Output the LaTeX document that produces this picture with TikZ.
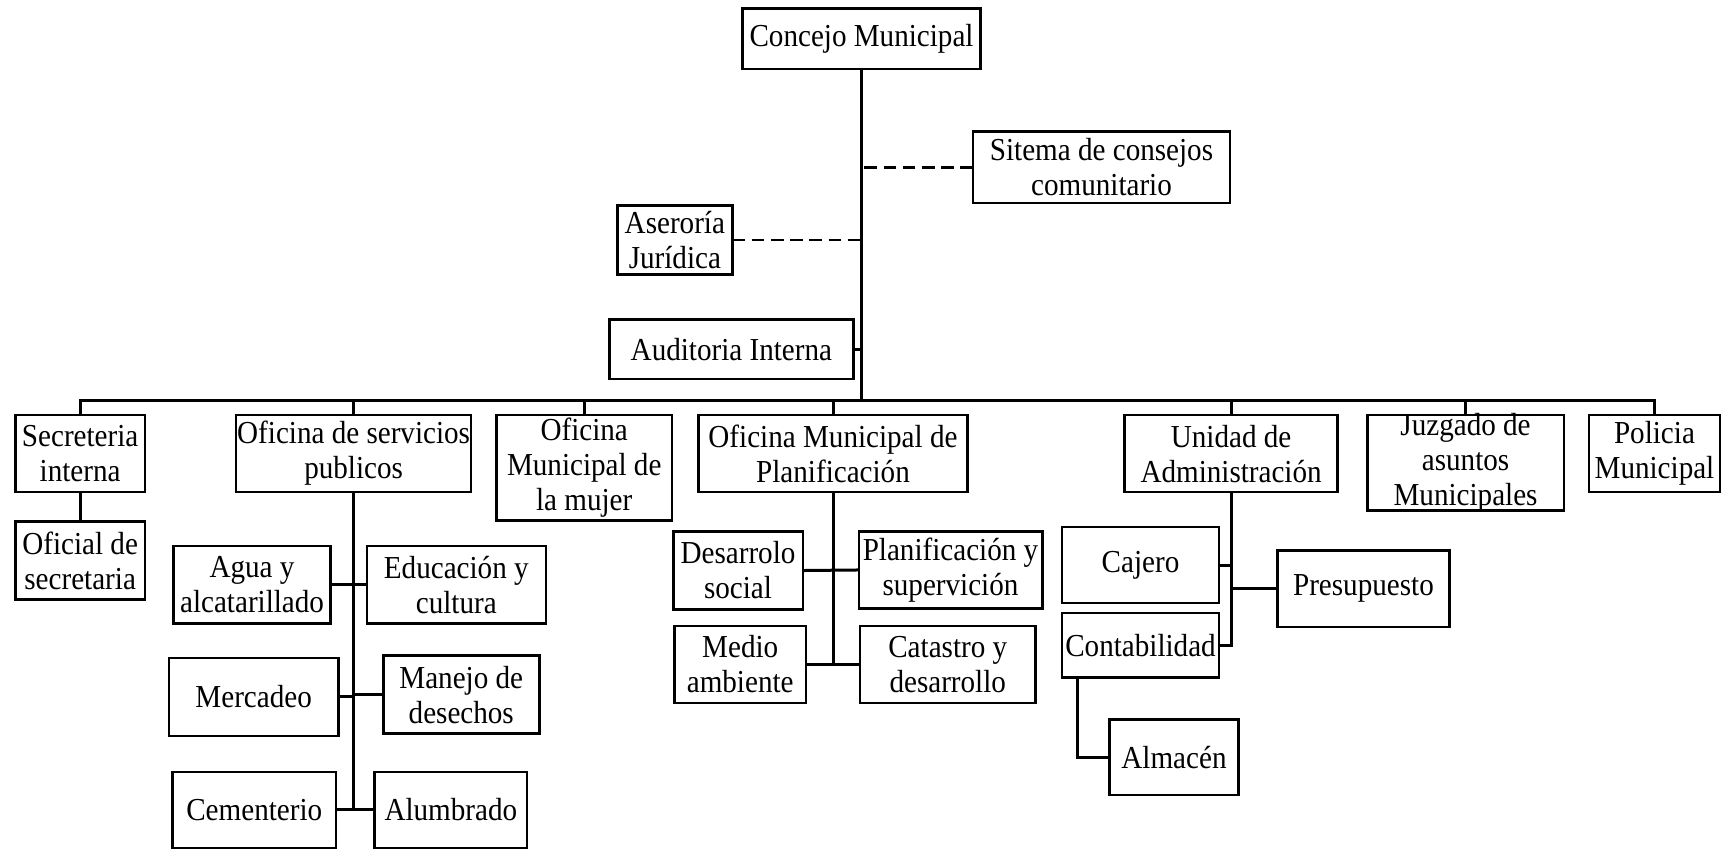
\documentclass[tikz,border=0pt]{standalone}
\usepackage{fontspec}
\setmainfont{Liberation Serif}[FakeStretch=0.91]
\usetikzlibrary{calc}
\begin{document}
\begin{tikzpicture}[x=0.5491pt,y=-0.5491pt,
  box/.style={draw=black, line width=1.3pt, inner sep=0pt, outer sep=0pt,
    align=center, font=\fontsize{16pt}{17.5pt}\selectfont, text=black},
  link/.style={draw=black, line width=1.5pt},
  mainlink/.style={draw=black, line width=1.8pt},
  dashlink/.style={draw=black, line width=1.3pt, dash pattern=on 6.3pt off 3.3pt}]
\useasboundingbox (0,0) rectangle (1568,773);
\newcommand\bx[7][]{\node[box, minimum width={(#5-#3)*0.5491pt}, minimum height={(#6-#4)*0.5491pt}, #1] (#2) at ({(#3+#5)/2},{(#4+#6)/2}) {#7};}
% top
\bx{cm}{676}{8}{893}{63}{Concejo Municipal}
\bx{sit}{886}{120}{1120}{185}{Sitema de consejos\\comunitario}
\bx{ase}{562}{187}{667}{250}{Aseroría\\Jurídica}
\bx{aud}{555}{291}{777}{345}{Auditoria Interna}
% level 2
\bx{sec}{14}{378}{132}{448}{Secreteria\\interna}
\bx{srv}{215}{378}{429}{448}{Oficina de servicios\\publicos}
\bx[inner ysep=-2pt]{muj}{452}{378}{612}{474}{Oficina\\Municipal de\\la mujer}
\bx{pla}{636}{378}{881}{448}{Oficina Municipal de\\Planificación}
\bx{uni}{1024}{378}{1218}{448}{Unidad de\\Administración}
\bx[inner ysep=-5pt]{juz}{1245}{378}{1424}{465}{Juzgado de\\asuntos\\Municipales}
\bx{pol}{1447}{378}{1566}{448}{Policia\\Municipal}
% secretaria
\bx{ofs}{14}{475}{132}{546}{Oficial de\\secretaria}
% servicios
\bx{agu}{158}{497}{301}{568}{Agua y\\alcatarillado}
\bx{edu}{334}{497}{497}{568}{Educación y\\cultura}
\bx{mer}{154}{599}{308}{670}{Mercadeo}
\bx{man}{349}{597}{491}{668}{Manejo de\\desechos}
\bx{cem}{157}{703}{306}{772}{Cementerio}
\bx{alu}{341}{703}{480}{772}{Alumbrado}
% planificacion
\bx{des}{613}{484}{731}{555}{Desarrolo\\social}
\bx{psu}{782}{484}{949}{554}{Planificación y\\supervición}
\bx{med}{614}{570}{734}{640}{Medio\\ambiente}
\bx{cat}{783}{570}{943}{640}{Catastro y\\desarrollo}
% administracion
\bx{caj}{967}{480}{1110}{549}{Cajero}
\bx{pre}{1163}{501}{1320}{571}{Presupuesto}
\bx{con}{967}{558}{1110}{617}{Contabilidad}
\bx{alm}{1010}{655}{1128}{724}{Almacén}
% connectors
\coordinate (busy) at (0,365);
\draw[mainlink] (cm.south) -- (cm.south |- busy);
\draw[dashlink] (sit.west) -- (sit.west -| cm.south);
\draw[dashlink] (ase.east) -- (ase.east -| cm.south);
\draw[link] (aud.east) -- (aud.east -| cm.south);
\draw[link] (sec.north) -- (sec.north |- busy) -- (pol.north |- busy) -- (pol.north);
\foreach \n in {srv,muj,pla,uni,juz}{\draw[link] (\n.north) -- (\n.north |- busy);}
\draw[link] (sec.south) -- (ofs.north);
% servicios
\draw[link] (srv.south) -- (srv.south |- cem.east);
\draw[link] (agu.east) -- (edu.west);
\draw[link] (mer.east) -- (mer.east -| srv.south);
\draw[link] (man.west) -- (man.west -| srv.south);
\draw[link] (cem.east) -- (alu.west);
% planificacion
\draw[link] (pla.south) -- (pla.south |- med.east);
\draw[link] (des.east) -- (psu.west);
\draw[link] (med.east) -- (cat.west);
% administracion
\draw[link] (uni.south) -- (uni.south |- con.east) -- (con.east);
\draw[link] (caj.east) -- (caj.east -| uni.south);
\draw[link] (pre.west) -- (pre.west -| uni.south);
\draw[link] ($(con.south west)+(14,0)$) |- (alm.west);
\end{tikzpicture}
\end{document}
